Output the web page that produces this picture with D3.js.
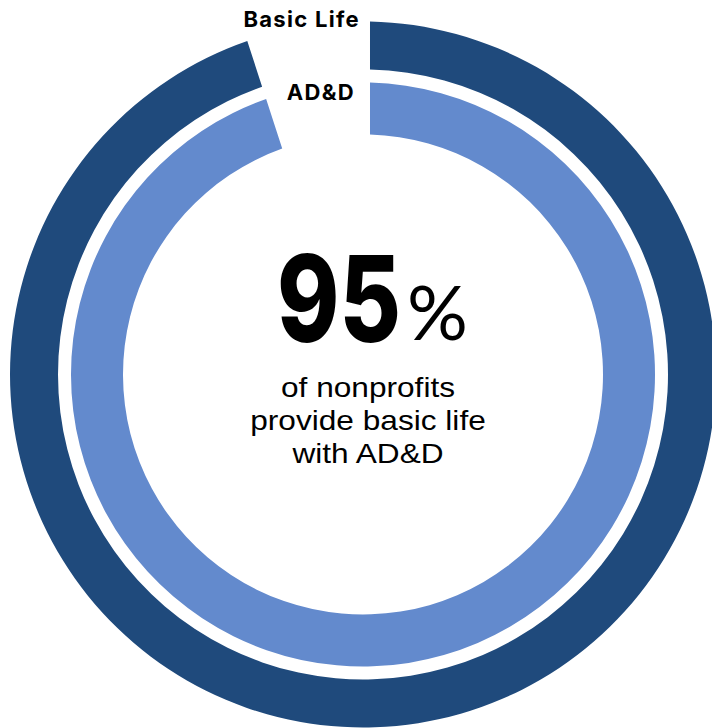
<!DOCTYPE html>
<html>
<head>
<meta charset="utf-8">
<script src="https://cdn.jsdelivr.net/npm/d3@7"></script>
<style>
  html, body { margin: 0; padding: 0; background: #ffffff; }
  svg { display: block; }
</style>
</head>
<body>
<svg id="chart" width="712" height="728"></svg>
<script>
// Ring data: outer ring first, inner ring second
const series = ["Basic Life", "AD&D"];
const values = [95, 95];           // percent of nonprofits
const colors = ["#1f4a7c", "#638acd"];
const headline = "95";
const headlineUnit = "%";
const caption = ["of nonprofits", "provide basic life", "with AD&D"];

const width = 712, height = 728;
const cx = 363, cy = 374.5;

// ring geometry (outer edge, thickness) per series
const ringOuter = [353, 292];
const ringWidth = [48, 52];

const svg = d3.select("#chart");

// percent -> angle (clockwise from 12 o'clock)
const angle = d3.scaleLinear().domain([0, 100]).range([0, 2 * Math.PI]);

const g = svg.append("g").attr("transform", `translate(${cx},${cy})`);

const arc = d3.arc()
  .innerRadius(d => d.outer - d.width)
  .outerRadius(d => d.outer)
  .startAngle(0)
  .endAngle(d => angle(d.value))
  .padRadius(200)
  .padAngle(0.07);

const rings = series.map((name, i) => ({
  name, value: values[i], color: colors[i], outer: ringOuter[i], width: ringWidth[i]
}));

g.selectAll("path.ring")
  .data(rings)
  .join("path")
  .attr("class", "ring")
  .attr("d", arc)
  .attr("fill", d => d.color);

// series labels sitting in the gap at the top
const labelY = [27, 100];
const labelX = [360, 355];
svg.selectAll("text.series")
  .data(rings)
  .join("text")
  .attr("class", "series")
  .attr("x", (d, i) => labelX[i])
  .attr("y", (d, i) => labelY[i])
  .attr("text-anchor", "end")
  .attr("font-family", "Inter, sans-serif")
  .attr("font-weight", 700)
  .attr("font-size", 22)
  .attr("letter-spacing", 1.3)
  .attr("fill", "#000")
  .text(d => d.name);

// headline figure: condensed number, then the unit
const numberWidth = 124;
const numG = svg.append("g");
const num = numG.append("text")
  .attr("class", "headline")
  .attr("x", 0)
  .attr("y", 0)
  .attr("text-anchor", "end")
  .attr("font-family", "Inter, sans-serif")
  .attr("font-weight", 800)
  .attr("font-size", 120)
  .attr("fill", "#000")
  .text(headline);
const natural = num.node().getComputedTextLength() || numberWidth;
numG.attr("transform", `translate(401,342) scale(${numberWidth / natural},1)`);

svg.append("text")
  .attr("class", "headline-unit")
  .attr("x", 407)
  .attr("y", 340)
  .attr("font-family", "Lato, sans-serif")
  .attr("font-weight", 400)
  .attr("font-size", 76)
  .attr("fill", "#000")
  .text(headlineUnit);

// caption block, one line per tspan, set slightly wide
const tx = 368;
svg.append("g")
  .attr("transform", `translate(${tx},0) scale(1.13,1)`)
  .append("text")
  .attr("class", "caption")
  .attr("text-anchor", "middle")
  .attr("font-family", "'Liberation Sans', Arial, sans-serif")
  .attr("font-size", 28)
  .attr("fill", "#000")
  .selectAll("tspan")
  .data(caption)
  .join("tspan")
  .attr("x", 0)
  .attr("y", (d, i) => 397 + i * 33)
  .text(d => d);
</script>
</body>
</html>
